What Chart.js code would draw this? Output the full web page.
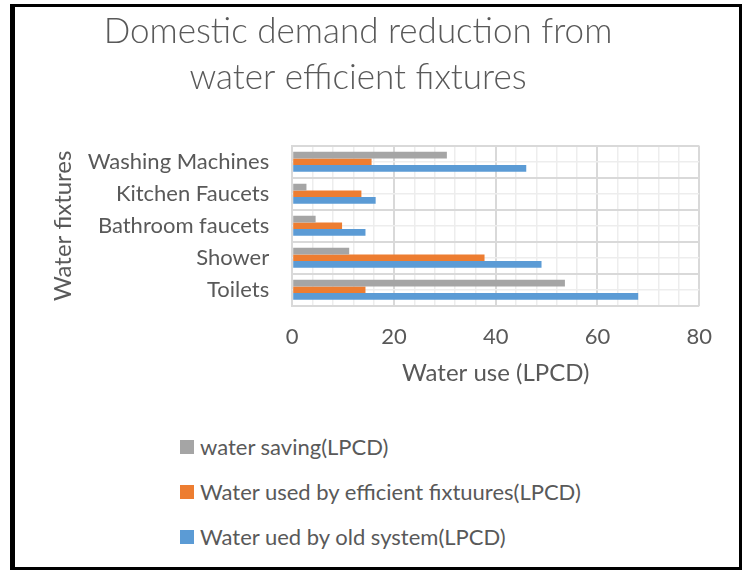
<!DOCTYPE html>
<html>
<head>
<meta charset="utf-8">
<script src="https://cdn.jsdelivr.net/npm/chart.js@4"></script>
<style>
  html, body { margin: 0; padding: 0; background: #fff; }
  body { width: 743px; height: 571px; position: relative; overflow: hidden; font-family: Lato, "Open Sans", sans-serif; }
  #frame { position: absolute; left: 10px; top: 4px; width: 724px; height: 560px; border: 3px solid #000; border-left-width: 5px; }
  #wrap { position: absolute; left: 0; top: 0; width: 730px; height: 388px; }
  #legend { position: absolute; left: 180px; top: 424px; color: #595959; font-size: 22px; }
  .item { height: 45px; display: flex; align-items: center; }
  .box { width: 14px; height: 14px; margin-right: 6px; }
</style>
</head>
<body>
<div id="frame"></div>
<div id="wrap"><canvas id="chart"></canvas></div>
<div id="legend"></div>
<script>
// Категории сверху вниз, как на картинке
const fixtures = ['Washing Machines', 'Kitchen Faucets', 'Bathroom faucets', 'Shower', 'Toilets'];

// Значения по сериям (LPCD)
const waterSaving = [30.4, 2.8, 4.6, 11.2, 53.6];
const efficientUse = [15.6, 13.6, 9.8, 37.8, 14.4];
const oldSystemUse = [46.0, 16.4, 14.4, 49.0, 68.0];

const xTicks = [0, 20, 40, 60, 80];

const textColor = '#595959';
const font = 'Lato, "Open Sans", sans-serif';

// Тонкие линии посередине каждой категории (как в Excel)
const midLines = {
    id: 'midLines',
    beforeDatasetsDraw(chart) {
        const { ctx, chartArea, scales } = chart;
        ctx.save();
        ctx.strokeStyle = '#ededed';
        ctx.lineWidth = 1.5;
        fixtures.forEach((f, i) => {
            const y = scales.y.getPixelForValue(i);
            ctx.beginPath();
            ctx.moveTo(chartArea.left, y);
            ctx.lineTo(chartArea.right, y);
            ctx.stroke();
        });
        ctx.restore();
    }
};

const ctx = document.getElementById('chart').getContext('2d');

const chart = new Chart(ctx, {
    type: 'bar',
    data: {
        labels: fixtures,
        datasets: [
            { label: 'water saving(LPCD)', data: waterSaving, backgroundColor: '#a5a5a5' },
            { label: 'Water used by efficient fixtuures(LPCD)', data: efficientUse, backgroundColor: '#ed7d31' },
            { label: 'Water ued by old system(LPCD)', data: oldSystemUse, backgroundColor: '#5b9bd5' }
        ]
    },
    plugins: [midLines],
    options: {
        indexAxis: 'y',
        responsive: true,
        maintainAspectRatio: false,
        animation: false,
        datasets: {
            bar: { categoryPercentage: 0.62, barPercentage: 1.0 }
        },
        layout: { padding: { left: -14, right: 0, top: 0, bottom: 0 } },
        plugins: {
            legend: { display: false },
            tooltip: { enabled: false },
            title: {
                display: true,
                text: ['Domestic demand reduction from', 'water efficient fixtures'],
                color: textColor,
                font: { family: font, size: 35, weight: 300, lineHeight: 1.31 },
                padding: { top: 9, bottom: 45 }
            }
        },
        scales: {
            x: {
                min: xTicks[0],
                max: xTicks[xTicks.length - 1],
                ticks: {
                    stepSize: 4,
                    autoSkip: false,
                    maxRotation: 0,
                    color: textColor,
                    font: { family: font, size: 22 },
                    padding: 18,
                    callback: v => xTicks.includes(v) ? v : ''
                },
                grid: {
                    drawTicks: false,
                    color: c => xTicks.includes(c.tick.value) ? '#d9d9d9' : '#ededed',
                    lineWidth: c => xTicks.includes(c.tick.value) ? 2 : 1.5
                },
                border: { display: false },
                title: {
                    display: true,
                    text: 'Water use (LPCD)',
                    color: textColor,
                    font: { family: font, size: 24 },
                    padding: { top: -9, bottom: 0 }
                }
            },
            y: {
                ticks: {
                    color: textColor,
                    font: { family: font, size: 22 },
                    padding: 23
                },
                grid: { drawTicks: false, offset: true, color: '#d9d9d9', lineWidth: 2 },
                border: { display: true, color: '#d9d9d9', width: 2 },
                title: {
                    display: true,
                    text: 'Water fixtures',
                    color: textColor,
                    font: { family: font, size: 24 },
                    padding: { top: 63, bottom: -13 }
                }
            }
        }
    }
});

// Легенда столбиком под графиком
const legendBox = document.getElementById('legend');
chart.data.datasets.forEach(ds => {
    const item = document.createElement('div');
    item.className = 'item';
    const box = document.createElement('span');
    box.className = 'box';
    box.style.background = ds.backgroundColor;
    const text = document.createElement('span');
    text.textContent = ds.label;
    item.appendChild(box);
    item.appendChild(text);
    legendBox.appendChild(item);
});
</script>
</body>
</html>
